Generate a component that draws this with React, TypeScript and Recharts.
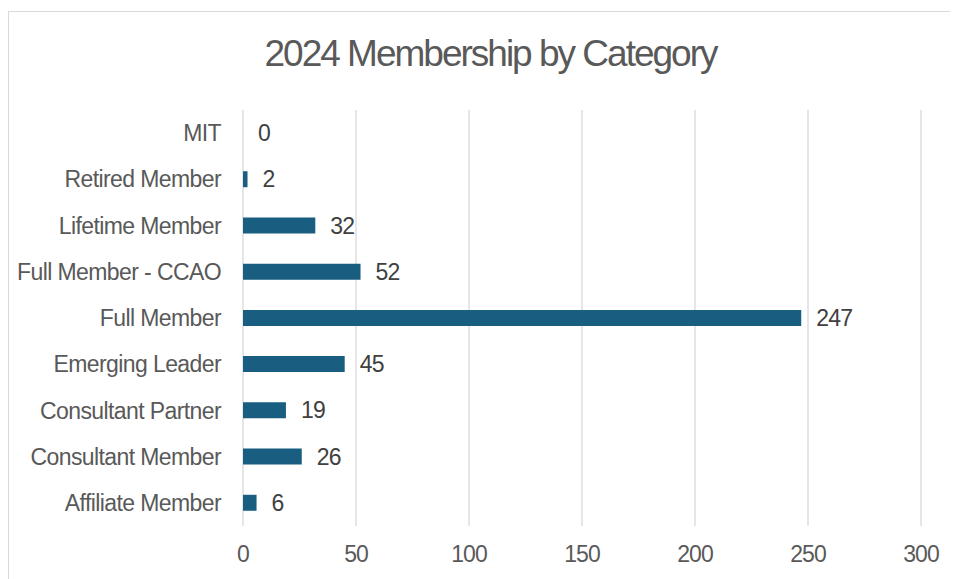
import React from 'react'
import { BarChart, Bar, XAxis, YAxis, CartesianGrid, LabelList } from 'recharts'

const categories = [
    'MIT',
    'Retired Member',
    'Lifetime Member',
    'Full Member - CCAO',
    'Full Member',
    'Emerging Leader',
    'Consultant Partner',
    'Consultant Member',
    'Affiliate Member',
]
const members = [0, 2, 32, 52, 247, 45, 19, 26, 6]
const xTicks = [0, 50, 100, 150, 200, 250, 300]

const data = categories.map((name, i) => ({ name, value: members[i] }))

const FONT = '"Liberation Sans", Arial, sans-serif'
const TEXT = '#595959'

// value label drawn by hand so the zero bar keeps its "0"
const ValueLabel = (props: any) => {
    const { x, y, width, height, value } = props
    return (
        <text
            x={Number(x) + Number(width || 0) + 15}
            y={Number(y) + Number(height) / 2}
            dy="0.355em"
            fill="#404040"
            fontSize={23}
            fontFamily={FONT}
            style={{ letterSpacing: -0.8 }}
        >
            {value}
        </text>
    )
}

export default function App() {
    return (
        <div style={{ paddingTop: 3 }}>
            <div
                style={{
                    position: 'relative',
                    width: 950,
                    height: 568,
                    borderTop: '1px solid #d9d9d9',
                    borderLeft: '1px solid #d9d9d9',
                    boxSizing: 'border-box',
                    fontFamily: FONT,
                }}
            >
                <div
                    style={{
                        position: 'absolute',
                        top: 23,
                        left: 0,
                        width: 963,
                        textAlign: 'center',
                        fontSize: 37,
                        lineHeight: '37px',
                        letterSpacing: -2,
                        color: TEXT,
                    }}
                >
                    2024 Membership by Category
                </div>
                <div style={{ position: 'absolute', top: -1, left: -1 }}>
                    <BarChart
                        width={950}
                        height={568}
                        data={data}
                        layout="vertical"
                        margin={{ top: 99, right: 37, bottom: 23, left: 0 }}
                    >
                        <CartesianGrid horizontal={false} stroke="#d9d9d9" strokeWidth={1.3} />
                        <XAxis
                            type="number"
                            domain={[0, 300]}
                            ticks={xTicks}
                            axisLine={false}
                            tickLine={false}
                            tickSize={0}
                            tickMargin={20}
                            height={30}
                            tick={{ fill: TEXT, fontSize: 23, fontFamily: FONT, letterSpacing: -1 }}
                        />
                        <YAxis
                            type="category"
                            dataKey="name"
                            width={235}
                            axisLine={false}
                            tickLine={false}
                            tickSize={0}
                            tickMargin={22}
                            interval={0}
                            tick={{ fill: TEXT, fontSize: 23, fontFamily: FONT, letterSpacing: -0.6 }}
                        />
                        <Bar
                            dataKey="value"
                            fill="#195e80"
                            barSize={16}
                            minPointSize={0.01}
                            isAnimationActive={false}
                        >
                            <LabelList dataKey="value" content={ValueLabel} />
                        </Bar>
                    </BarChart>
                </div>
            </div>
        </div>
    )
}
